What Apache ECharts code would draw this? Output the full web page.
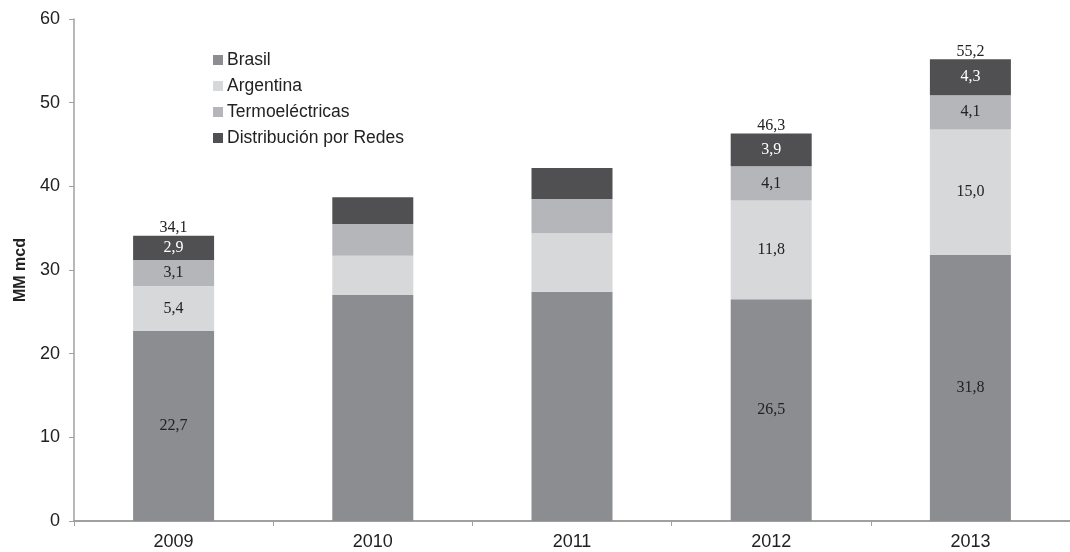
<!DOCTYPE html>
<html>
<head>
<meta charset="utf-8">
<script src="https://cdn.jsdelivr.net/npm/echarts@6/dist/echarts.min.js"></script>
<style>
  html, body { margin: 0; padding: 0; background: #fff; }
  #chart { width: 1070px; height: 552px; }
</style>
</head>
<body>
<div id="chart"></div>
<script>
  const years = ['2009', '2010', '2011', '2012', '2013'];
  const brasil = [22.7, 27.0, 27.4, 26.5, 31.8];
  const argentina = [5.4, 4.7, 7.0, 11.8, 15.0];
  const termo = [3.1, 3.8, 4.1, 4.1, 4.1];
  const redes = [2.9, 3.2, 3.7, 3.9, 4.3];
  // years whose values are written on the bars
  const labelled = [true, false, false, true, true];

  const fmt = v => v.toFixed(1).replace('.', ',');
  const totals = years.map((y, i) => +(brasil[i] + argentina[i] + termo[i] + redes[i]).toFixed(1));

  const LABEL_FONT = { fontFamily: 'Liberation Serif', fontSize: 16 };

  function barData(values, textColor) {
    return values.map((v, i) => ({
      value: v,
      label: {
        show: labelled[i],
        position: 'inside',
        color: textColor,
        formatter: p => fmt(p.value),
        ...LABEL_FONT
      }
    }));
  }

  function barSeries(name, values, color, textColor) {
    return {
      name: name,
      type: 'bar',
      stack: 'total',
      barWidth: 81,
      itemStyle: { color: color },
      data: barData(values, textColor)
    };
  }

  let myChart = echarts.init(document.getElementById('chart'));
  let option = {
    animation: false,
    backgroundColor: '#fff',
    textStyle: { fontFamily: 'Liberation Sans' },
    grid: {
      left: 74,
      top: 19,
      width: 1001,
      bottom: 31
    },
    legend: {
      orient: 'vertical',
      left: 208,
      top: 46,
      itemWidth: 10,
      itemHeight: 10,
      itemGap: 8,
      icon: 'rect',
      data: ['Brasil', 'Argentina', 'Termoeléctricas', 'Distribución por Redes'],
      textStyle: { fontSize: 17.5, color: '#222', lineHeight: 17, padding: [0, 0, 0, -1] }
    },
    xAxis: {
      type: 'category',
      data: years,
      axisLine: { show: true, lineStyle: { color: '#a0a0a0', width: 2 } },
      axisTick: { show: true, length: 5, lineStyle: { color: '#a0a0a0', width: 1 } },
      axisLabel: { color: '#222', fontSize: 18, margin: 12 }
    },
    yAxis: {
      type: 'value',
      min: 0,
      max: 60,
      interval: 10,
      name: 'MM mcd',
      nameLocation: 'middle',
      nameRotate: 90,
      nameGap: 45,
      nameTextStyle: { fontSize: 16, fontWeight: 'bold', color: '#222' },
      axisLine: { show: true, lineStyle: { color: '#a0a0a0', width: 1.5 } },
      axisTick: { show: true, length: 5, lineStyle: { color: '#a0a0a0' } },
      splitLine: { show: false },
      axisLabel: { color: '#222', fontSize: 18, margin: 14 }
    },
    series: [
      barSeries('Brasil', brasil, '#8c8d91', '#222'),
      barSeries('Argentina', argentina, '#d7d8da', '#222'),
      barSeries('Termoeléctricas', termo, '#b5b6b9', '#222'),
      barSeries('Distribución por Redes', redes, '#505052', '#fff'),
      {
        name: 'total',
        type: 'line',
        symbol: 'circle',
        symbolSize: 1,
        showSymbol: true,
        itemStyle: { color: 'rgba(0,0,0,0)' },
        lineStyle: { width: 0, color: 'rgba(0,0,0,0)' },
        silent: true,
        data: totals.map((v, i) => ({
          value: v,
          label: {
            show: labelled[i],
            position: 'top',
            distance: -1,
            color: '#222',
            formatter: p => fmt(p.value),
            ...LABEL_FONT
          }
        }))
      }
    ]
  };
  option && myChart.setOption(option);
</script>
</body>
</html>
